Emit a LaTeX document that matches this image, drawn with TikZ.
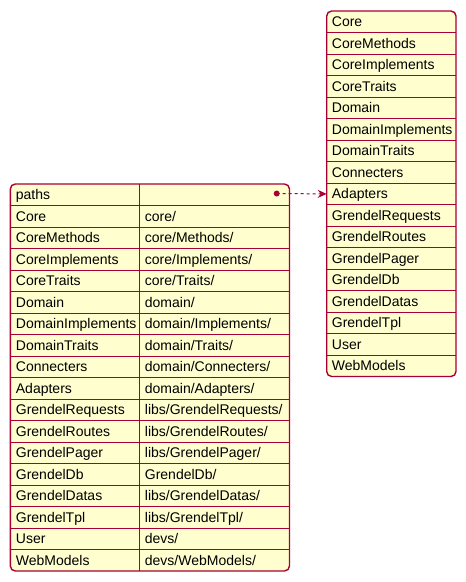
\documentclass[tikz,border=0pt]{standalone}
\usepackage{fontspec}
\setmainfont{Liberation Sans}
\usetikzlibrary{arrows.meta}
\definecolor{umlred}{HTML}{A80036}
\definecolor{umlfill}{HTML}{FEFECE}
\tikzset{
  frame/.style={draw=umlred, fill=umlfill, line width=1.4pt, rounded corners=5pt},
  sep/.style={draw=umlred, line width=1pt},
  cell/.style={inner sep=0pt, anchor=base west, font=\fontsize{14}{16}\selectfont},
  rowbox/.style={inner sep=0pt, minimum width=129.5pt, minimum height=21.5pt, anchor=north west},
  link/.style={draw=umlred, line width=1pt, dash pattern=on 3pt off 3pt, -{Stealth[length=9pt,width=8pt,inset=3pt]}},
  tail/.style={circle, inner sep=0pt, minimum size=6pt}
}
\begin{document}
\begin{tikzpicture}[x=1pt,y=-1pt]
\useasboundingbox (0,0) rectangle (466,582);
% left table
\def\lt{184}
\def\rh{21.5}
\draw[frame] (10.3,\lt) rectangle (289.5,{\lt+18*\rh});
\foreach \i in {1,...,17}{
  \draw[sep] (10.3,{\lt+\i*\rh}) -- (289.5,{\lt+\i*\rh});
}
\draw[sep] (139.3,\lt) -- (139.3,{\lt+18*\rh});
\node[cell] (lpaths) at (15.7,{\lt+15.5}) {paths};
\foreach [count=\i] \k/\v in {Core/core\slash, CoreMethods/core\slash Methods\slash, CoreImplements/core\slash Implements\slash, CoreTraits/core\slash Traits\slash, Domain/domain\slash, DomainImplements/domain\slash Implements\slash, DomainTraits/domain\slash Traits\slash, Connecters/domain\slash Connecters\slash, Adapters/domain\slash Adapters\slash, GrendelRequests/libs\slash GrendelRequests\slash, GrendelRoutes/libs\slash GrendelRoutes\slash, GrendelPager/libs\slash GrendelPager\slash, GrendelDb/GrendelDb\slash, GrendelDatas/libs\slash GrendelDatas\slash, GrendelTpl/libs\slash GrendelTpl\slash, User/devs\slash, WebModels/devs\slash WebModels\slash}{
  \node[cell] (lk\i) at (15.7,{\lt+\i*\rh+15.5}) {\k};
  \node[cell] (lv\i) at (144.7,{\lt+\i*\rh+15.5}) {\v};
}
\node[tail] (dot) at (276.7,193.5) {};
% right table
\def\rt{11}
\draw[frame] (326.7,\rt) rectangle (456,{\rt+17*\rh});
\foreach \i in {1,...,16}{
  \draw[sep] (326.7,{\rt+\i*\rh}) -- (456,{\rt+\i*\rh});
}
\foreach [count=\i from 0] \k in {Core, CoreMethods, CoreImplements, CoreTraits, Domain, DomainImplements, DomainTraits, Connecters, Adapters, GrendelRequests, GrendelRoutes, GrendelPager, GrendelDb, GrendelDatas, GrendelTpl, User, WebModels}{
  \node[rowbox] (rrow\i) at (326.7,{\rt+\i*\rh}) {};
  \node[cell] (rk\i) at (331.7,{\rt+\i*\rh+15.5}) {\k};
}
\draw[link] (dot.center) -- (rrow8.west);
\fill[umlred] (dot) circle (3pt);
\end{tikzpicture}
\end{document}
